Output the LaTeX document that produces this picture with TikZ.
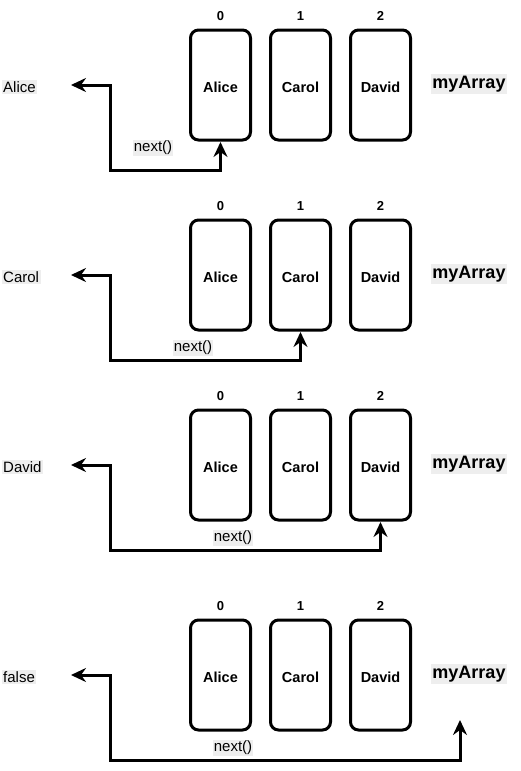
\documentclass[tikz,border=0pt]{standalone}
\usepackage{fontspec}
\setmainfont{Liberation Sans}
\usetikzlibrary{arrows.meta}
\definecolor{lblbg}{HTML}{EEEEEE}
\newcommand{\lowerit}[1]{\raisebox{-2pt}[\height][\depth]{#1}}
\tikzset{
  cell/.style={draw, line width=3pt, rounded corners=8pt, minimum width=60pt, minimum height=110pt, inner sep=0pt, font=\fontsize{14.5}{16}\selectfont\bfseries},
  idx/.style={font=\fontsize{13}{14}\selectfont\bfseries, inner sep=0pt},
  arrname/.style={fill=lblbg, inner sep=1.5pt, font=\fontsize{18}{20}\selectfont\bfseries},
  sidelbl/.style={fill=lblbg, inner sep=1.5pt, anchor=west, font=\fontsize{15}{18}\selectfont},
  calllbl/.style={fill=lblbg, inner sep=1.2pt, font=\fontsize{15}{18}\selectfont},
  link/.style={line width=3pt, {Stealth[length=15pt,width=14pt,inset=5pt]}-{Stealth[length=15pt,width=14pt,inset=5pt]}},
}
\begin{document}
\begin{tikzpicture}[x=1pt,y=-1pt]
\useasboundingbox (0,0) rectangle (520,771);
\foreach \p/\y in {1/85,2/275,3/465,4/675}{
  \node[cell] (a\p) at (220.5,\y) {\lowerit{Alice}};
  \node[cell] (b\p) at (300.5,\y) {\lowerit{Carol}};
  \node[cell] (d\p) at (380.5,\y) {\lowerit{David}};
  \node[idx] (i0\p) at (220.5,\y-69) {0};
  \node[idx] (i1\p) at (300.5,\y-69) {1};
  \node[idx] (i2\p) at (380.5,\y-69) {2};
  \node[arrname] (m\p) at (469,\y-1) {myArray};
}
% side labels
\node[sidelbl] (s1) at (1.5,87) {Alice};
\node[sidelbl] (s2) at (1.5,277) {Carol};
\node[sidelbl] (s3) at (1.5,467) {David};
\node[sidelbl] (s4) at (1.5,677) {false};
% call labels
\node[calllbl] (n1) at (153,148) {next()};
\node[calllbl] (n2) at (193,348) {next()};
\node[calllbl] (n3) at (233,538) {next()};
\node[calllbl] (n4) at (233,748) {next()};
% connectors
\coordinate (t1) at (71,85);  \coordinate (c1) at (110,170);
\coordinate (t2) at (71,275); \coordinate (c2) at (110,360);
\coordinate (t3) at (71,465); \coordinate (c3) at (110,550);
\coordinate (t4) at (71,675); \coordinate (c4) at (110,760);
\coordinate (e4) at (460,720);
\draw[link] (t1) -| (c1) -| ([yshift=-0.5pt]a1.south);
\draw[link] (t2) -| (c2) -| ([yshift=-0.5pt]b2.south);
\draw[link] (t3) -| (c3) -| ([yshift=-0.5pt]d3.south);
\draw[link] (t4) -| (c4) -| (e4);
\end{tikzpicture}
\end{document}
